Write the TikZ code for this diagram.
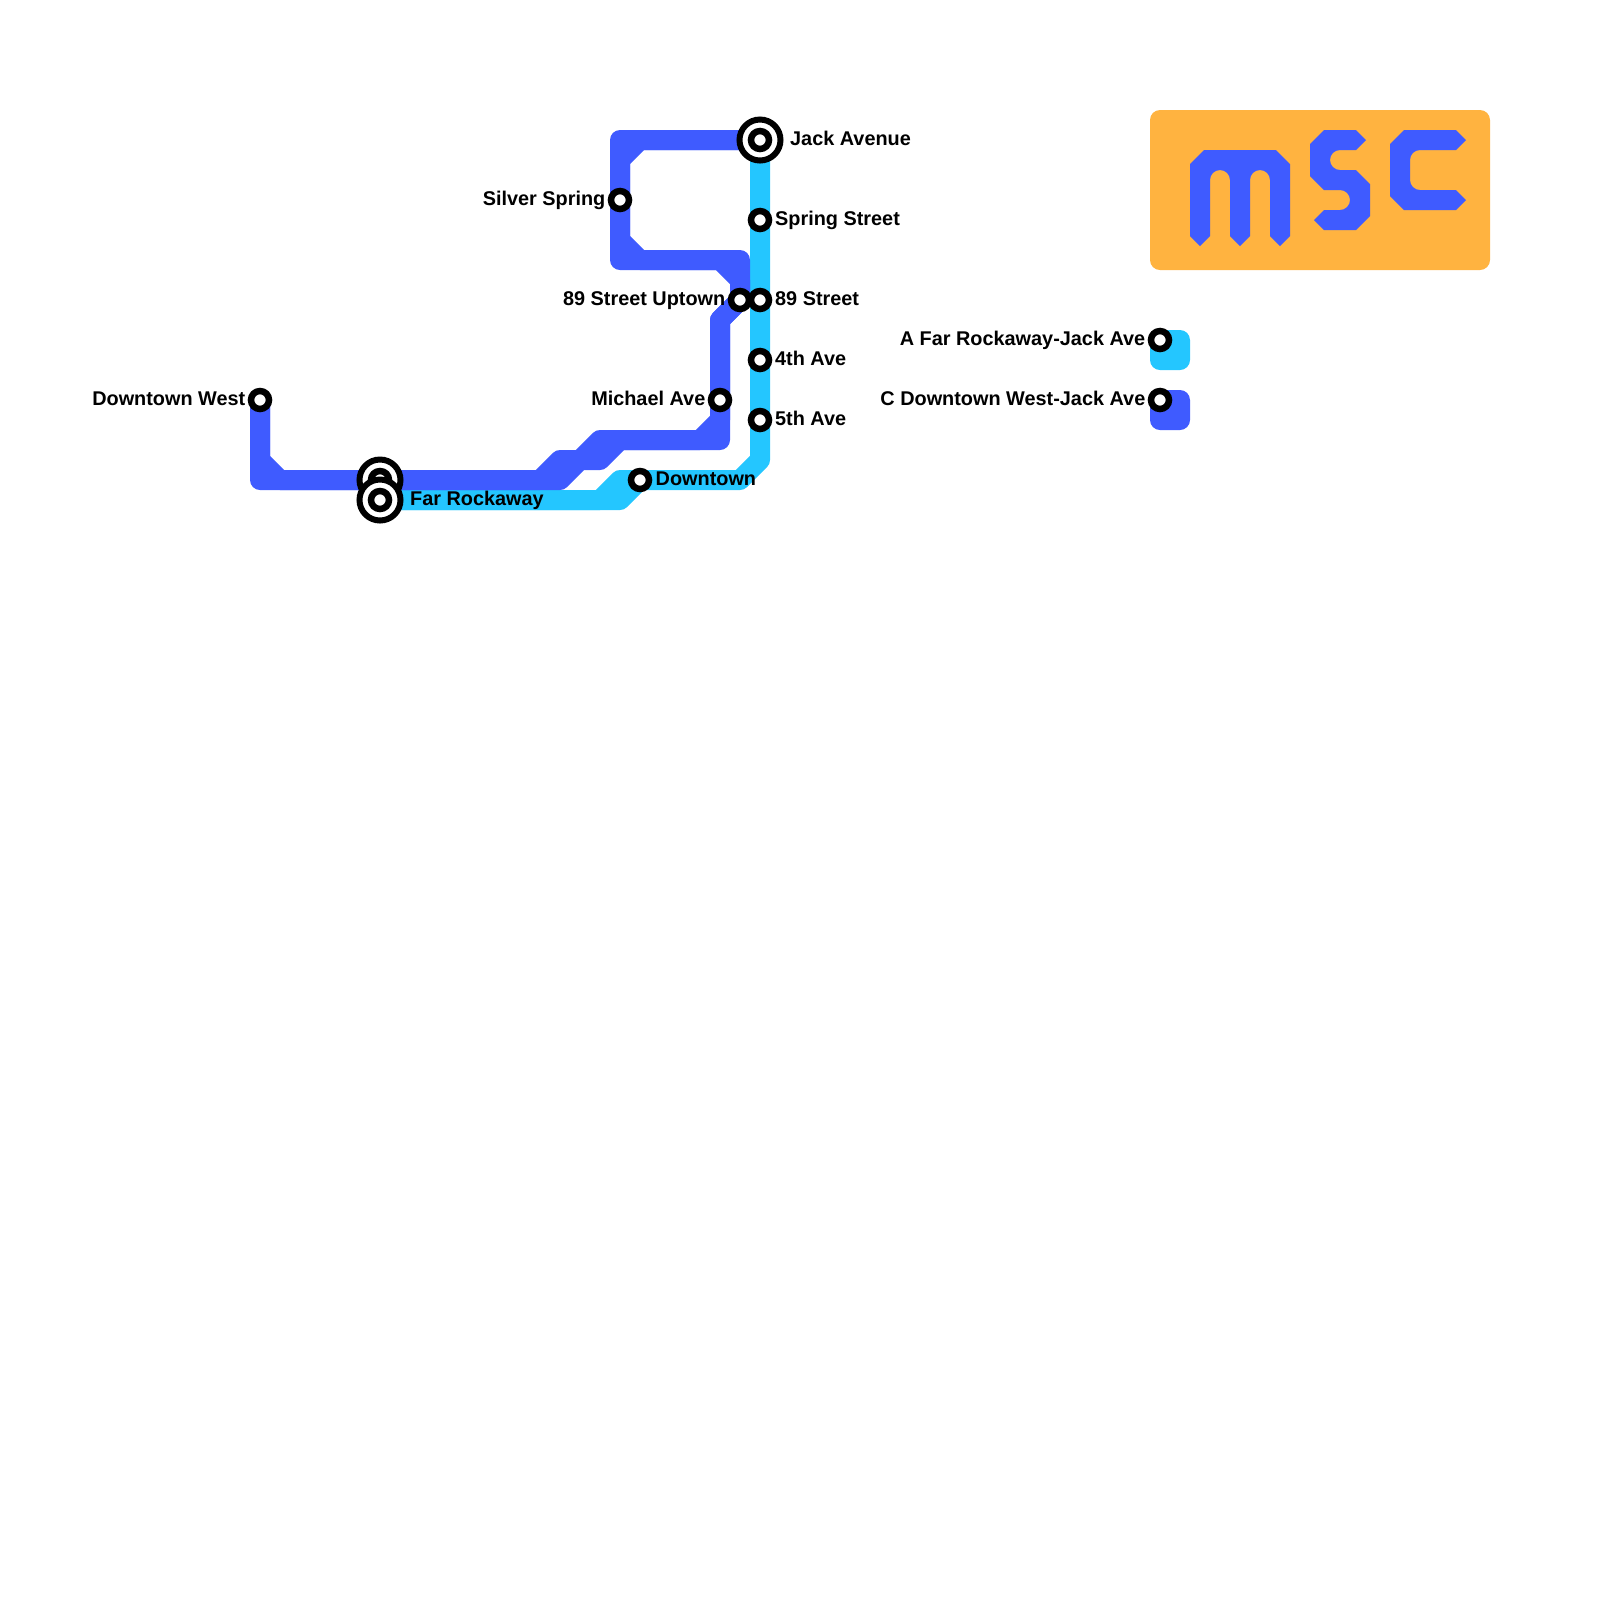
\documentclass[tikz,border=0pt]{standalone}
\usepackage{fontspec}
\setmainfont{Liberation Sans}
\usetikzlibrary{positioning,backgrounds}
\definecolor{lineA}{HTML}{24C6FF}
\definecolor{lineC}{HTML}{3F5BFF}
\definecolor{badge}{HTML}{FFB340}
\tikzset{
  stop/.style={circle,draw=black,fill=white,line width=0.065cm,minimum size=0.18cm,inner sep=0pt},
  bigstop/.style={circle,draw=black,fill=white,line width=0.06cm,minimum size=0.41cm,inner sep=0pt},
  stoptext/.style={inner sep=0pt,font=\fontsize{5.65}{7}\selectfont\bfseries,text=black,text height=0.145cm,text depth=0.042cm},
  track/.style={line width=0.2cm,line join=round},
  legbox/.style={rounded corners=0.1cm,minimum size=0.4cm,inner sep=0pt}
}
\begin{document}
\begin{tikzpicture}[x=0.2cm,y=-0.2cm]
\useasboundingbox (0,0) rectangle (80,80);
% --- stops of the C line
\node[stop] (dtw) at (13,20) {};
\node[stoptext,left=0.0175cm of dtw] (dtwtext) {Downtown West};
\node[bigstop] (farup) at (19,24) {};
\node[stop] (farupin) at (19,24) {};
\node[stop] (michael) at (36,20) {};
\node[stoptext,left=0.0175cm of michael] (michaeltext) {Michael Ave};
\node[stop] (uptown) at (37,15) {};
\node[stoptext,left=0.0175cm of uptown] (uptowntext) {89 Street Uptown};
\node[stop] (silver) at (31,10) {};
\node[stoptext,left=0.0175cm of silver] (silvertext) {Silver Spring};
% --- stops of the A line
\node[bigstop] (far) at (19,25) {};
\node[stop] (farin) at (19,25) {};
\node[stoptext,right=0.06cm of far] (fartext) {Far Rockaway};
\node[stop] (down) at (32,24) {};
\node[stoptext,right=0.0275cm of down] (downtext) {Downtown};
\node[stop] (fifth) at (38,21) {};
\node[stoptext,right=0.0225cm of fifth] (fifthtext) {5th Ave};
\node[stop] (fourth) at (38,18) {};
\node[stoptext,right=0.0225cm of fourth] (fourthtext) {4th Ave};
\node[stop] (street) at (38,15) {};
\node[stoptext,right=0.0225cm of street] (streettext) {89 Street};
\node[stop] (spring) at (38,11) {};
\node[stoptext,right=0.0225cm of spring] (springtext) {Spring Street};
\node[bigstop] (jack) at (38,7) {};
\node[stop] (jackin) at (38,7) {};
\node[stoptext,right=0.06cm of jack] (jacktext) {Jack Avenue};
% --- the tracks
\begin{scope}[on background layer]
\draw[track,lineA] (far.center) -- (30,25) -- (31,24) -- (37,24) -- (38,23) -- (fifth.center) -- (jack.center);
\draw[track,lineA] (far.center) -- (31,25) -- (down.center);
\draw[track,lineC] (dtw.center) -- (13,24) -- (farup.center) -- (28,24) -- (29,23) -- (30,23) -- (31,22) -- (36,22) -- (michael.center) -- (36,16) -- (uptown.center) -- (37,13) -- (31,13) -- (silver.center) -- (31,7) -- (jack.center);
\draw[track,lineC] (dtw.center) -- (13,23) -- (14,24) -- (farup.center) -- (27,24) -- (28,23) -- (29,23) -- (30,22) -- (35,22) -- (36,21) -- (michael.center) -- (36,16) -- (uptown.center) -- (37,14) -- (36,13) -- (32,13) -- (31,12) -- (silver.center) -- (31,8) -- (32,7) -- (jack.center);
\end{scope}
% --- the legend
\node[legbox,fill=lineA] (legA) at (58.5,17.5) {};
\node[stop] (legAstop) at (58,17) {};
\node[stoptext,left=0.0175cm of legAstop] (legAtext) {A Far Rockaway-Jack Ave};
\node[legbox,fill=lineC] (legC) at (58.5,20.5) {};
\node[stop] (legCstop) at (58,20) {};
\node[stoptext,left=0.0175cm of legCstop] (legCtext) {C Downtown West-Jack Ave};
% --- the badge
\fill[badge,rounded corners=0.1cm] (57.5,5.5) rectangle (74.5,13.5);
\fill[lineC] (59.5,8.2) -- (60.2,7.5) -- (63.8,7.5) -- (64.5,8.2) -- (64.5,11.8) -- (64,12.3) -- (63.5,11.8) -- (63.5,9)
  arc[start angle=0,end angle=180,radius=0.1cm] -- (62.5,11.8) -- (62,12.3) -- (61.5,11.8) -- (61.5,9)
  arc[start angle=0,end angle=180,radius=0.1cm] -- (60.5,11.8) -- (60,12.3) -- (59.5,11.8) -- cycle;
\fill[lineC] (65.5,7.2) -- (66.2,6.5) -- (67.8,6.5) -- (68.3,7) -- (67.8,7.5) -- (67,7.5)
  arc[start angle=90,end angle=270,radius=0.1cm] -- (67.8,8.5) -- (68.5,9.2) -- (68.5,10.8) -- (67.8,11.5) -- (66.2,11.5) -- (65.7,11) -- (66.2,10.5) -- (67,10.5)
  arc[start angle=270,end angle=450,radius=0.1cm] -- (66.2,9.5) -- (65.5,8.8) -- cycle;
\fill[lineC] (69.5,7.2) -- (70.2,6.5) -- (72.8,6.5) -- (73.3,7) -- (72.8,7.5) -- (71,7.5)
  arc[start angle=90,end angle=180,radius=0.1cm] -- (70.5,9)
  arc[start angle=180,end angle=270,radius=0.1cm] -- (72.8,9.5) -- (73.3,10) -- (72.8,10.5) -- (70.2,10.5) -- (69.5,9.8) -- cycle;
\end{tikzpicture}
\end{document}
